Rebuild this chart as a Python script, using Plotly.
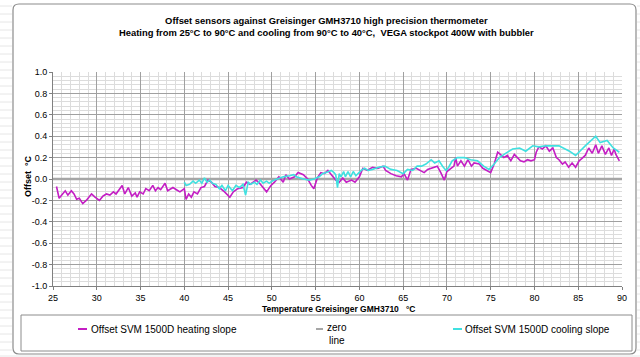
import plotly.graph_objects as go

# ---------------- data ----------------
heat_t = [25.4, 25.7, 26.0, 26.4, 26.7, 27.1, 27.4, 27.7, 28.0, 28.4, 28.8, 29.4, 29.8, 30.3, 30.7,
          31.1, 31.5, 31.9, 32.2, 32.6, 32.9, 33.2, 33.6, 34.0, 34.4, 34.6, 34.9, 35.3, 35.6, 36.0,
          36.4, 36.7, 37.0, 37.3, 37.8, 38.1, 38.7, 39.1, 39.5, 40.0, 40.2, 40.5, 40.8, 41.1, 41.5,
          41.9, 42.3, 42.7, 43.1, 43.5, 44.0, 44.6, 45.2, 45.6, 46.1, 46.7, 47.1, 47.5, 48.2, 48.6,
          49.0, 49.4, 49.9, 50.3, 50.8, 51.3, 51.6, 52.0, 52.6, 53.0, 53.6, 54.1, 54.5, 54.8, 55.2,
          55.6, 56.0, 56.4, 56.8, 57.3, 57.7, 58.1, 58.5, 59.1, 59.5, 60.0, 60.4, 60.9, 61.5, 62.1,
          62.7, 63.0, 63.6, 64.2, 64.8, 65.1, 65.5, 65.9, 66.5, 67.0, 67.4, 67.8, 68.4, 68.9, 69.3,
          69.7, 70.0, 70.3, 70.8, 71.0, 71.2, 71.6, 72.0, 72.4, 72.8, 73.1, 73.7, 74.1, 74.6, 75.0,
          75.4, 75.8, 76.1, 76.5, 76.9, 77.3, 77.7, 78.0, 78.4, 78.8, 79.2, 79.6, 80.0, 80.2, 80.5,
          80.9, 81.3, 81.7, 82.1, 82.5, 82.8, 83.2, 83.5, 83.9, 84.3, 84.7, 85.1, 85.4, 85.8, 86.2,
          86.6, 87.0, 87.3, 87.7, 88.1, 88.5, 88.8, 89.1, 89.3, 89.7]
heat_v = [-0.07, -0.18, -0.15, -0.11, -0.15, -0.11, -0.14, -0.19, -0.18, -0.23, -0.20, -0.14, -0.17, -0.20, -0.16,
          -0.14, -0.15, -0.12, -0.14, -0.09, -0.06, -0.14, -0.08, -0.16, -0.13, -0.17, -0.12, -0.14, -0.09, -0.11,
          -0.06, -0.11, -0.08, -0.10, -0.04, -0.11, -0.08, -0.10, -0.12, -0.09, -0.19, -0.14, -0.17, -0.12, -0.14,
          -0.08, -0.07, -0.01, -0.03, -0.07, -0.08, -0.12, -0.17, -0.12, -0.09, -0.08, -0.03, -0.05, -0.01, -0.04,
          -0.08, -0.12, -0.06, -0.03, 0.02, -0.03, 0.04, 0.00, 0.02, 0.06, 0.04, 0.00, -0.06, -0.09, 0.01,
          0.06, 0.05, 0.08, 0.04, -0.01, -0.03, 0.01, -0.03, -0.01, -0.03, 0.02, 0.10, 0.08, 0.11, 0.10,
          0.12, 0.08, 0.05, 0.03, 0.02, 0.05, -0.01, 0.09, 0.10, 0.08, 0.06, 0.09, 0.11, 0.12, 0.06,
          -0.01, 0.07, 0.09, 0.12, 0.20, 0.12, 0.17, 0.12, 0.18, 0.12, 0.15, 0.14, 0.10, 0.08, 0.06,
          0.14, 0.25, 0.23, 0.20, 0.22, 0.17, 0.23, 0.20, 0.17, 0.16, 0.18, 0.17, 0.18, 0.25, 0.30,
          0.28, 0.31, 0.26, 0.29, 0.20, 0.18, 0.14, 0.16, 0.11, 0.15, 0.11, 0.17, 0.19, 0.22, 0.29,
          0.24, 0.32, 0.24, 0.31, 0.23, 0.29, 0.22, 0.28, 0.23, 0.17]

cool_t = [40.0, 40.2, 40.6, 41.0, 41.3, 41.7, 42.0, 42.3, 42.6, 42.9, 43.2, 43.6, 44.0, 44.3, 44.7,
          45.0, 45.5, 45.9, 46.3, 46.7, 47.0, 47.3, 47.6, 48.0, 48.3, 48.7, 49.0, 49.4, 49.7, 50.0,
          50.3, 50.7, 51.3, 52.0, 52.5, 52.8, 53.6, 54.3, 54.8, 55.4, 55.8, 56.2, 56.8, 57.1, 57.3,
          57.5, 57.7, 57.9, 58.2, 58.4, 58.7, 59.0, 59.3, 59.6, 59.8, 60.2, 60.6, 61.0, 61.5, 62.2,
          62.9, 63.6, 64.3, 65.0, 65.5, 66.1, 66.6, 67.1, 67.6, 68.2, 68.6, 69.1, 69.5, 69.9, 70.2,
          70.6, 71.2, 72.0, 72.7, 73.5, 74.2, 74.8, 75.4, 76.0, 76.7, 77.5, 78.3, 79.0, 79.8, 80.5,
          81.3, 82.8, 84.0, 84.7, 85.8, 87.0, 87.5, 88.3, 89.0, 89.7]
cool_v = [-0.03, -0.06, -0.05, -0.02, -0.04, -0.01, -0.04, 0.01, -0.03, -0.01, -0.04, -0.05, -0.09, -0.06, -0.11,
          -0.06, -0.11, -0.06, -0.08, -0.05, -0.15, -0.03, -0.05, -0.03, -0.05, -0.01, -0.04, -0.02, -0.04, -0.02,
          -0.01, 0.00, 0.02, 0.03, 0.04, 0.02, 0.00, -0.01, 0.00, 0.02, 0.05, 0.06, 0.08, 0.06, 0.04,
          -0.08, 0.05, 0.02, 0.07, 0.02, 0.07, 0.02, 0.07, 0.03, 0.05, 0.08, 0.10, 0.08, 0.09, 0.11,
          0.12, 0.09, 0.08, 0.05, 0.09, 0.08, 0.12, 0.12, 0.14, 0.18, 0.15, 0.17, 0.12, 0.08, 0.11,
          0.17, 0.20, 0.20, 0.18, 0.17, 0.12, 0.09, 0.14, 0.20, 0.24, 0.28, 0.29, 0.26, 0.31, 0.30,
          0.31, 0.31, 0.26, 0.22, 0.31, 0.40, 0.34, 0.36, 0.29, 0.25]

zero_t = [25, 90]
zero_v = [0, 0]

x_ticks = [25, 30, 35, 40, 45, 50, 55, 60, 65, 70, 75, 80, 85, 90]
x_ticklabels = ["25", "30", "35", "40", "45", "50", "55", "60", "65", "70", "75", "80", "85", "90"]
y_ticks = [-1.0, -0.8, -0.6, -0.4, -0.2, 0.0, 0.2, 0.4, 0.6, 0.8, 1.0]
y_ticklabels = ["-1.0", "-0.8", "-0.6", "-0.4", "-0.2", "0.0", "0.2", "0.4", "0.6", "0.8", "1.0"]

name_heat = "Offset SVM 1500D heating slope"
name_zero = "zero<br>line"
name_cool = "Offset SVM 1500D cooling slope"

COL_HEAT = "#C41EC4"
COL_COOL = "#40E0E0"
COL_ZERO = "#A6A6A6"

# ---------------- geometry helpers (pixel -> paper) ----------------
W, H = 640, 357
ML, MR, MT, MB = 53, 18, 72, 71
PW, PH = W - ML - MR, H - MT - MB


def px(x):
    return (x - ML) / PW


def py(y):
    return (H - MB - y) / PH


FONT = "Liberation Sans, Arial, sans-serif"

fig = go.Figure()
fig.add_trace(go.Scatter(x=zero_t, y=zero_v, mode="lines", name=name_zero,
                         line=dict(color=COL_ZERO, width=2.5), showlegend=False, hoverinfo="skip"))
fig.add_trace(go.Scatter(x=heat_t, y=heat_v, mode="lines", name=name_heat,
                         line=dict(color=COL_HEAT, width=1.6), showlegend=False))
fig.add_trace(go.Scatter(x=cool_t, y=cool_v, mode="lines", name=name_cool,
                         line=dict(color=COL_COOL, width=1.6), showlegend=False))

shapes = []
# chart-area rounded border
x0, y0, x1, y1, r = 13, 4, 636, 354, 6
path = (f"M {px(x0 + r)} {py(y0)} L {px(x1 - r)} {py(y0)} Q {px(x1)} {py(y0)} {px(x1)} {py(y0 + r)} "
        f"L {px(x1)} {py(y1 - r)} Q {px(x1)} {py(y1)} {px(x1 - r)} {py(y1)} "
        f"L {px(x0 + r)} {py(y1)} Q {px(x0)} {py(y1)} {px(x0)} {py(y1 - r)} "
        f"L {px(x0)} {py(y0 + r)} Q {px(x0)} {py(y0)} {px(x0 + r)} {py(y0)} Z")
# faint spreadsheet grid outside the chart
for yy in range(6, 357, 8):
    shapes.append(dict(type="line", xref="paper", yref="paper", x0=px(0), x1=px(12), y0=py(yy), y1=py(yy),
                       line=dict(color="#E6E6E6", width=1), layer="below"))
for yy in range(6, 357, 8):
    shapes.append(dict(type="line", xref="paper", yref="paper", x0=px(637), x1=px(640), y0=py(yy), y1=py(yy),
                       line=dict(color="#E6E6E6", width=1), layer="below"))
shapes.append(dict(type="line", xref="paper", yref="paper", x0=px(0), x1=px(640), y0=py(356), y1=py(356),
                   line=dict(color="#E6E6E6", width=1), layer="below"))
shapes.append(dict(type="path", xref="paper", yref="paper", path=path,
                   line=dict(color="#8C8C8C", width=1.2), fillcolor="rgba(0,0,0,0)"))
# legend box
shapes.append(dict(type="rect", xref="paper", yref="paper", x0=px(21), x1=px(632), y0=py(315), y1=py(351),
                   line=dict(color="#8C8C8C", width=1)))
# legend samples
for (sx0, sx1, col) in [(78, 87, COL_HEAT), (316, 323, COL_ZERO), (453, 462, COL_COOL)]:
    shapes.append(dict(type="line", xref="paper", yref="paper", x0=px(sx0), x1=px(sx1), y0=py(329), y1=py(329),
                       line=dict(color=col, width=2)))

LEG = 10
annotations = [
    dict(text=name_heat, x=px(89), y=py(329), xref="paper", yref="paper", xanchor="left", yanchor="middle",
         showarrow=False, font=dict(family=FONT, size=LEG, color="#000")),
    dict(text=name_zero, x=px(325), y=py(334), xref="paper", yref="paper", xanchor="left", yanchor="middle",
         align="center", showarrow=False, font=dict(family=FONT, size=LEG, color="#000")),
    dict(text=name_cool, x=px(463), y=py(329), xref="paper", yref="paper", xanchor="left", yanchor="middle",
         showarrow=False, font=dict(family=FONT, size=LEG, color="#000")),
    dict(text="<b>Offset sensors against Greisinger GMH3710 high precision thermometer</b><br>"
              "<b>Heating from 25°C to 90°C and cooling from 90°C to 40°C,\u00a0 VEGA stockpot 400W with bubbler</b>",
         x=px(326), y=py(26), xref="paper", yref="paper", xanchor="center", yanchor="middle",
         showarrow=False, font=dict(family=FONT, size=9.4, color="#000")),
    dict(text="<b>Temperature Greisinger GMH3710\u00a0\u00a0 °C</b>", x=px(338), y=py(308.5), xref="paper",
         yref="paper", xanchor="center", yanchor="middle", showarrow=False,
         font=dict(family=FONT, size=8.5, color="#000")),
    dict(text="<b>Offset\u00a0 °C</b>", x=px(28), y=py(176), xref="paper", yref="paper", xanchor="center",
         yanchor="middle", textangle=-90, showarrow=False, font=dict(family=FONT, size=9, color="#000")),
]

fig.update_layout(
    width=W, height=H, autosize=False,
    margin=dict(l=ML, r=MR, t=MT, b=MB, pad=0),
    paper_bgcolor="white", plot_bgcolor="white",
    showlegend=False,
    shapes=shapes, annotations=annotations,
    font=dict(family=FONT, size=9, color="#000"),
    xaxis=dict(range=[25, 90], tickmode="array", tickvals=x_ticks, ticktext=x_ticklabels,
               showgrid=True, gridcolor="#A0A0A0", gridwidth=1,
               minor=dict(dtick=1, showgrid=True, gridcolor="#DCDCDC", gridwidth=1),
               ticks="outside", ticklen=3, tickcolor="#808080",
               showline=True, linecolor="#808080", linewidth=1, zeroline=False,
               tickfont=dict(family=FONT, size=9, color="#000")),
    yaxis=dict(range=[-1, 1], tickmode="array", tickvals=y_ticks, ticktext=y_ticklabels,
               showgrid=True, gridcolor="#A0A0A0", gridwidth=1,
               minor=dict(dtick=0.04, tick0=0, showgrid=True, gridcolor="#DCDCDC", gridwidth=1),
               ticks="outside", ticklen=3, tickcolor="#808080",
               showline=True, linecolor="#808080", linewidth=1, zeroline=False,
               tickfont=dict(family=FONT, size=9, color="#000")),
)

fig.write_html("out.html", config={"displayModeBar": False},
               post_script="document.body.style.margin='0';document.body.style.overflow='hidden';")
